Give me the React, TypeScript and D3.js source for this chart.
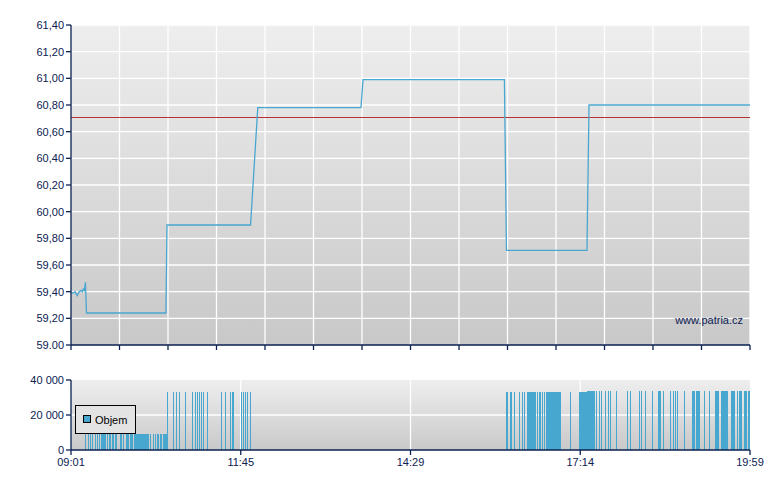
import * as d3 from 'd3';
import React from 'react';

// price trace (time, price)
const priceTimes = ['09:01', '09:03', '09:05', '09:07', '09:09', '09:11', '09:12', '09:13', '09:14', '09:15', '09:16',
  '10:33', '10:34', '11:55', '12:02', '13:42', '13:44', '16:01', '16:03', '17:21', '17:23', '19:59'];
const priceValues = [59.39, 59.39, 59.40, 59.37, 59.40, 59.41, 59.40, 59.42, 59.41, 59.47, 59.24,
  59.24, 59.90, 59.90, 60.78, 60.78, 60.99, 60.99, 59.71, 59.71, 60.80, 60.80];
const referencePrice = 60.71;

// volume runs: first minute, last minute, volume
const volumeRuns: [string, string, number][] = [
  ['09:15', '09:15', 9000], ['09:17', '09:17', 9000], ['09:19', '09:19', 9000], ['09:21', '09:21', 9000],
  ['09:24', '09:24', 9000], ['09:26', '09:26', 9000], ['09:28', '09:28', 9000], ['09:30', '09:34', 9000],
  ['09:36', '09:36', 9000], ['09:38', '09:39', 9000], ['09:41', '09:42', 9000], ['09:44', '09:45', 9000],
  ['09:48', '09:49', 9000], ['09:51', '09:51', 9000], ['09:54', '09:56', 9000], ['09:58', '10:00', 9000],
  ['10:02', '10:16', 9000], ['10:18', '10:18', 9000], ['10:20', '10:20', 9000], ['10:22', '10:22', 9000],
  ['10:24', '10:25', 9000], ['10:27', '10:28', 9000], ['10:30', '10:33', 9000],
  ['10:34', '10:34', 33300], ['10:40', '10:40', 33300], ['10:43', '10:43', 33300], ['10:46', '10:46', 33300],
  ['10:51', '10:51', 33300], ['10:58', '10:58', 33300], ['11:01', '11:01', 33300], ['11:03', '11:03', 33300],
  ['11:05', '11:05', 33300], ['11:07', '11:07', 33300], ['11:09', '11:09', 33300], ['11:13', '11:13', 33300],
  ['11:26', '11:26', 33300], ['11:30', '11:30', 33300], ['11:35', '11:35', 33300], ['11:37', '11:38', 33300],
  ['11:46', '11:46', 33300], ['11:48', '11:48', 33300], ['11:50', '11:50', 33300], ['11:52', '11:52', 33300],
  ['11:54', '11:54', 33300],
  ['16:03', '16:03', 33300], ['16:06', '16:07', 33300], ['16:10', '16:10', 33300], ['16:15', '16:15', 33300],
  ['16:18', '16:18', 33300], ['16:20', '16:20', 33300], ['16:23', '16:31', 33300], ['16:33', '16:33', 33300],
  ['16:35', '16:35', 33300], ['16:37', '16:37', 33300], ['16:39', '16:39', 33300], ['16:41', '16:55', 33300],
  ['17:05', '17:05', 33300], ['17:13', '17:20', 33300],
  ['17:21', '17:28', 33700], ['17:30', '17:30', 33700], ['17:33', '17:33', 33700], ['17:35', '17:35', 33700],
  ['17:38', '17:38', 33700], ['17:41', '17:41', 33700], ['17:43', '17:43', 33700], ['17:49', '17:49', 33700],
  ['18:00', '18:00', 33700], ['18:03', '18:03', 33700], ['18:11', '18:11', 33700], ['18:13', '18:13', 33700],
  ['18:17', '18:17', 33700], ['18:24', '18:24', 33700], ['18:30', '18:32', 33700], ['18:35', '18:35', 33700],
  ['18:41', '18:41', 33700], ['18:44', '18:44', 33700], ['18:46', '18:46', 33700], ['18:48', '18:48', 33700],
  ['18:55', '18:55', 33700], ['19:03', '19:05', 33700], ['19:07', '19:10', 33700], ['19:14', '19:14', 33700],
  ['19:19', '19:19', 33700], ['19:25', '19:28', 33700], ['19:31', '19:37', 33700], ['19:41', '19:43', 33700],
  ['19:46', '19:46', 33700], ['19:48', '19:50', 33700], ['19:53', '19:55', 33700], ['19:57', '19:58', 33700],
];

const priceTicks = [59.0, 59.2, 59.4, 59.6, 59.8, 60.0, 60.2, 60.4, 60.6, 60.8, 61.0, 61.2, 61.4];
const priceTickLabels = ['59.00', '59,20', '59,40', '59,60', '59,80', '60,00', '60,20', '60,40', '60,60', '60,80', '61,00', '61,20', '61,40'];
const volumeTicks = [0, 20000, 40000];
const volumeTickLabels = ['0', '20 000', '40 000'];
const timeLabels = ['09:01', '11:45', '14:29', '17:14', '19:59'];

const navy = '#0b2152';
const blue = '#48a7cf';
const font = '"Liberation Sans", Arial, sans-serif';

const parseTime = d3.timeParse('%H:%M');

export default function App() {
  const t0 = parseTime('09:01')!;
  const t1 = parseTime('19:59')!;
  const x = d3.scaleTime().domain([t0, t1]).range([71, 750]);
  const yP = d3.scaleLinear().domain([59, 61.4]).range([345, 25]);
  const yV = d3.scaleLinear().domain([0, 40000]).range([450, 380]);

  const span = t1.getTime() - t0.getTime();
  const gridTimes = d3.range(15).map(i => new Date(t0.getTime() + i * span / 14));
  const labelTimes = timeLabels.map((_, i) => new Date(t0.getTime() + i * span / 4));

  const pts = priceTimes.map((t, i) => [x(parseTime(t)!), yP(priceValues[i])] as [number, number]);
  const line = d3.line();

  const [xl, xr] = x.range();
  const refY = Math.round(yP(referencePrice)) + 0.5;

  return (
    <svg width={780} height={490} style={{position: 'absolute', left: 0, top: 0}} fontFamily={font}>
      <defs>
        <linearGradient id="bgP" x1="0" y1="0" x2="0" y2="1">
          <stop offset="0" stopColor="#eeeeee"/>
          <stop offset="1" stopColor="#c8c8c8"/>
        </linearGradient>
        <linearGradient id="bgV" x1="0" y1="0" x2="0" y2="1">
          <stop offset="0" stopColor="#eeeeee"/>
          <stop offset="1" stopColor="#c9c9c9"/>
        </linearGradient>
      </defs>

      {/* price panel */}
      <rect x={xl} y={yP(61.4)} width={xr - xl} height={yP(59) - yP(61.4)} fill="url(#bgP)"/>
      {priceTicks.slice(1).map(v => (
        <line key={v} x1={xl} x2={xr} y1={yP(v)} y2={yP(v)} stroke="#fff" strokeWidth={1.3}/>
      ))}
      {gridTimes.slice(1).map((t, i) => (
        <line key={i} x1={x(t)} x2={x(t)} y1={yP(61.4)} y2={yP(59)} stroke="#fff" strokeWidth={1.3}/>
      ))}
      <line x1={xl} x2={xr} y1={refY} y2={refY} stroke="#b83232" strokeWidth={1} shapeRendering="crispEdges"/>
      <path d={line(pts)!} fill="none" stroke={blue} strokeWidth={1.3}/>
      <text x={743} y={324} textAnchor="end" fontSize={11} fill={navy}>www.patria.cz</text>

      <line x1={xl} x2={xl} y1={yP(61.4)} y2={yP(59)} stroke={navy} strokeWidth={1.3}/>
      <line x1={xl} x2={xr} y1={yP(59)} y2={yP(59)} stroke={navy} strokeWidth={1.3}/>
      {priceTicks.map((v, i) => (
        <g key={v}>
          <line x1={xl - 5} x2={xl} y1={yP(v)} y2={yP(v)} stroke={navy} strokeWidth={1.3}/>
          <text x={xl - 7} y={yP(v) + 4} textAnchor="end" fontSize={11} fill={navy}>{priceTickLabels[i]}</text>
        </g>
      ))}
      {gridTimes.map((t, i) => (
        <line key={i} x1={x(t)} x2={x(t)} y1={yP(59)} y2={yP(59) + 5} stroke={navy} strokeWidth={1.3}/>
      ))}

      {/* volume panel */}
      <rect x={xl} y={yV(40000)} width={xr - xl} height={yV(0) - yV(40000)} fill="url(#bgV)"/>
      <line x1={xl} x2={xr} y1={yV(20000)} y2={yV(20000)} stroke="#fff" strokeWidth={1.3}/>
      {labelTimes.slice(1, -1).map((t, i) => (
        <line key={i} x1={x(t)} x2={x(t)} y1={yV(40000)} y2={yV(0)} stroke="#fff" strokeWidth={1.3}/>
      ))}
      {volumeRuns.map(([a, b, v], i) => {
        const s = parseTime(a)!;
        const e = d3.timeMinute.offset(parseTime(b)!, 1);
        return (
          <rect key={i} x={x(s)} y={yV(v)} width={Math.max(1, x(e) - x(s))} height={yV(0) - yV(v)}
            fill={blue} shapeRendering="crispEdges"/>
        );
      })}
      <rect x={75.5} y={405.5} width={60} height={28} fill="#e3e3e3" stroke="#000" strokeWidth={1}/>
      <rect x={83.5} y={415.5} width={7} height={7} fill={blue} stroke="#000" strokeWidth={1}/>
      <text x={95} y={424} fontSize={11} fill="#000">Objem</text>

      <line x1={xl} x2={xl} y1={yV(40000)} y2={yV(0)} stroke={navy} strokeWidth={1.3}/>
      <line x1={xl} x2={xr} y1={yV(0)} y2={yV(0)} stroke={navy} strokeWidth={1.3}/>
      {volumeTicks.map((v, i) => (
        <g key={v}>
          <line x1={xl - 5} x2={xl} y1={yV(v)} y2={yV(v)} stroke={navy} strokeWidth={1.3}/>
          <text x={xl - 7} y={yV(v) + 4} textAnchor="end" fontSize={11} fill={navy}>{volumeTickLabels[i]}</text>
        </g>
      ))}
      {labelTimes.map((t, i) => (
        <g key={i}>
          <line x1={x(t)} x2={x(t)} y1={yV(0)} y2={yV(0) + 5} stroke={navy} strokeWidth={1.3}/>
          <text x={x(t)} y={yV(0) + 16} textAnchor="middle" fontSize={11} fill={navy}>{timeLabels[i]}</text>
        </g>
      ))}
    </svg>
  );
}
